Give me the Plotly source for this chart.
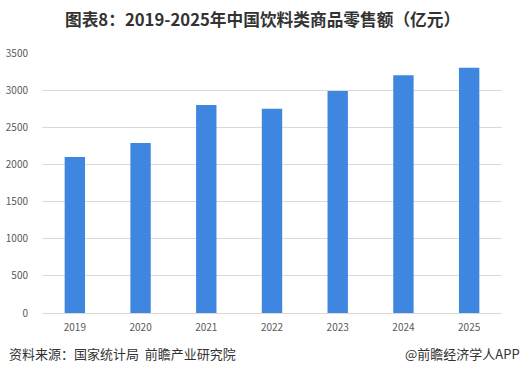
import plotly.graph_objects as go

years = ["2019", "2020", "2021", "2022", "2023", "2024", "2025"]
values = [2100, 2290, 2800, 2750, 2990, 3200, 3300]
y_ticks = [0, 500, 1000, 1500, 2000, 2500, 3000, 3500]

title_text = "<b>图表8：2019-2025年中国饮料类商品零售额（亿元）</b>"
source_text = "资料来源：国家统计局  前瞻产业研究院"
credit_text = "@前瞻经济学人APP"

FONT = "Noto Sans CJK SC, Noto Sans, sans-serif"

fig = go.Figure(go.Bar(
    x=years, y=values,
    marker=dict(color="#3f86e0", line=dict(width=0)),
    width=0.31,
))

L, R, T, B = 42, 22, 53, 60
W, H = 524, 373
plot_h = H - T - B
plot_w = W - L - R

def py(pix):
    return (H - B - pix) / plot_h

def px(pix):
    return (pix - L) / plot_w

fig.update_layout(
    width=W, height=H,
    margin=dict(l=L, r=R, t=T, b=B),
    paper_bgcolor="white", plot_bgcolor="white",
    showlegend=False,
    font=dict(family=FONT, size=10, color="#595959"),
    xaxis=dict(
        type="category", showgrid=False, automargin=False,
        showline=True, linecolor="#d9d9d9", linewidth=1,
        ticks="", ticklabelstandoff=5,
        tickfont=dict(size=10, color="#595959"),
    ),
    yaxis=dict(
        range=[0, 3500], tickvals=y_ticks, automargin=False,
        showgrid=True, gridcolor="#d9d9d9", gridwidth=1,
        zeroline=False, showline=False, ticks="",
        ticklabelstandoff=13,
        tickfont=dict(size=10, color="#595959"),
    ),
    annotations=[
        dict(text=title_text, x=px(262), y=py(19), xref="paper", yref="paper",
             xanchor="center", yanchor="middle", showarrow=False,
             font=dict(size=16.7, color="#333333", family=FONT)),
        dict(text=source_text, x=px(7), y=py(353), xref="paper", yref="paper",
             xanchor="left", yanchor="middle", showarrow=False,
             font=dict(size=13, color="#333333", family=FONT)),
        dict(text=credit_text, x=px(522), y=py(353), xref="paper", yref="paper",
             xanchor="right", yanchor="middle", showarrow=False,
             font=dict(size=13, color="#333333", family=FONT)),
    ],
)

fig.write_html("out.html", config={"displayModeBar": False},
               post_script="document.body.style.margin='0';")
